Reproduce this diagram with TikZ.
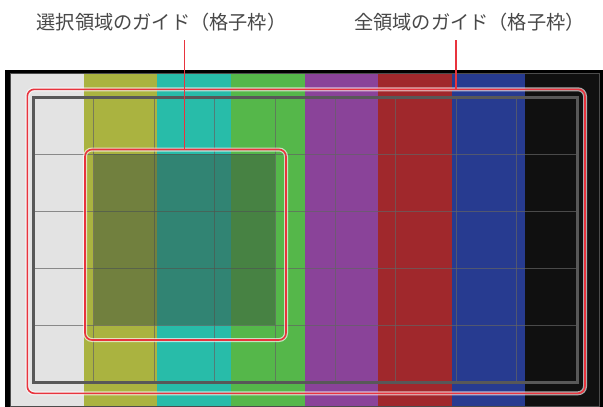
\documentclass[tikz,border=0pt]{standalone}
\usepackage{fontspec}
\newfontfamily\jpfont{Noto Sans CJK JP}
\definecolor{barA}{RGB}{227,227,227}
\definecolor{barB}{RGB}{170,179,64}
\definecolor{barC}{RGB}{40,188,169}
\definecolor{barD}{RGB}{85,183,74}
\definecolor{barE}{RGB}{138,67,153}
\definecolor{barF}{RGB}{160,40,44}
\definecolor{barG}{RGB}{39,59,144}
\definecolor{barH}{RGB}{16,16,16}
\definecolor{gridc}{RGB}{99,99,99}
\definecolor{thickc}{RGB}{88,88,88}
\definecolor{selshadecol}{RGB}{58,78,62}
\definecolor{guidered}{RGB}{232,52,62}
\definecolor{txt}{RGB}{72,72,72}
\tikzset{
  gridline/.style={draw=gridc, draw opacity=0.7, line width=1pt},
  outerguide/.style={draw=thickc, line width=3pt},
  halo/.style={draw=white, draw opacity=0.65, line width=4pt, rounded corners=7pt},
  redguide/.style={draw=guidered, line width=1.6pt, rounded corners=7pt},
  leader/.style={draw=guidered, line width=1.2pt},
  selarea/.style={fill=selshadecol, fill opacity=0.5},
  label/.style={font=\jpfont\fontsize{19.2}{23}\selectfont, text=txt, inner sep=0pt}
}
\begin{document}
\begin{tikzpicture}[x=1pt,y=-1pt]
\useasboundingbox (0,0) rectangle (603,407);
\fill[white] (0,0) rectangle (603,407);
% monitor frame
\fill[black] (5,70) rectangle (603,407);
% colour bars
\foreach \c [count=\i from 0] in {barA,barB,barC,barD,barE,barF,barG,barH}{
  \fill[\c] ({10+\i*73.625},73) rectangle ({10+(\i+1)*73.625},406);
}
\draw[gray!60!black, line width=0.8pt] (10,73) rectangle (599,406);
% grid guide (whole area)
\foreach \i in {1,...,8}{
  \draw[gridline] ({33.5+\i*60.39},97.5) -- ({33.5+\i*60.39},382);
}
\foreach \j in {1,...,4}{
  \draw[gridline] (33.5,{97.5+\j*56.9}) -- (577,{97.5+\j*56.9});
}
\draw[outerguide] (33.5,97.5) rectangle (577,382);
% selected area shading
\path[selarea] (93.9,154.4) rectangle (275.2,325.1);
% red guides
\draw[halo] (27.3,89.3) rectangle (585,393.3);
\draw[redguide] (27.3,89.3) rectangle (585,393.3);
\draw[halo] (85,149.5) rectangle (286,340);
\draw[redguide] (85,149.5) rectangle (286,340);
% labels
\node[label] (selLabel) at (161.5,22) {選択領域のガイド（格子枠）};
\node[label] (allLabel) at (469.5,22) {全領域のガイド（格子枠）};
\coordinate (selTop) at (184.5,149.5);
\coordinate (allTop) at (456,89.3);
\coordinate (selStart) at (184.5,40);
\coordinate (allStart) at (456,40);
\draw[leader] (selStart) -- (selTop);
\draw[leader] (allStart) -- (allTop);
\end{tikzpicture}
\end{document}
